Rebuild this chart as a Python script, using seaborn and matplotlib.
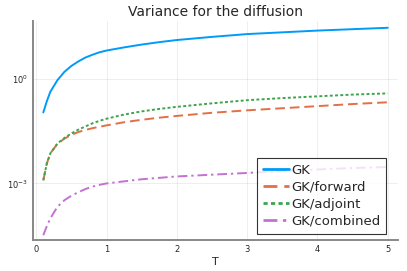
import numpy as np
import pandas as pd
import matplotlib
matplotlib.use('Agg')
import matplotlib.pyplot as plt
import seaborn as sns
from matplotlib.ticker import FixedLocator, NullLocator

# Values (log10 of the variance)
T = [0.1, 0.15, 0.2, 0.3, 0.4, 0.5, 0.6, 0.7, 0.8, 0.9, 1.0, 1.25, 1.5, 1.75,
     2.0, 2.5, 3.0, 3.5, 4.0, 4.5, 5.0]
log_gk = [-0.97, -0.65, -0.38, -0.05, 0.19, 0.36, 0.49, 0.60, 0.68, 0.75, 0.80,
          0.89, 0.97, 1.04, 1.10, 1.19, 1.27, 1.32, 1.37, 1.41, 1.45]
log_forward = [-2.91, -2.43, -2.14, -1.87, -1.72, -1.61, -1.53, -1.47, -1.42, -1.38, -1.34,
               -1.25, -1.18, -1.12, -1.07, -0.98, -0.91, -0.85, -0.79, -0.73, -0.68]
log_adjoint = [-2.91, -2.43, -2.14, -1.86, -1.70, -1.57, -1.46, -1.37, -1.28, -1.21, -1.15,
               -1.03, -0.94, -0.87, -0.81, -0.71, -0.62, -0.56, -0.51, -0.46, -0.425]
log_combined = [-4.48, -4.22, -4.0, -3.67, -3.48, -3.35, -3.25, -3.16, -3.09, -3.04, -3.0,
                -2.94, -2.88, -2.84, -2.80, -2.75, -2.70, -2.65, -2.60, -2.56, -2.53]

labels = ['GK', 'GK/forward', 'GK/adjoint', 'GK/combined']
colors = ['#009AFA', '#E36F47', '#3EA44E', '#C371D2']
dashes = [None, (5, 2.5), (1.5, 1.2), (5, 2, 1.2, 2)]

sns.set_style('white')
plt.rcParams['font.family'] = ['DejaVu Sans']

fig = plt.figure(figsize=(4.07, 2.71), dpi=100)
ax = fig.add_axes([0.081, 0.114, 0.897, 0.808])

for lab, vals, c, d in zip(labels, [log_gk, log_forward, log_adjoint, log_combined], colors, dashes):
    df = pd.DataFrame({'T': T, 'V': 10 ** np.array(vals)})
    sns.lineplot(data=df, x='T', y='V', ax=ax, color=c, lw=1.4, label=lab)
    if d is not None:
        ax.lines[-1].set_dashes(d)

ax.set_yscale('log')
ax.set_xlim(-0.047, 5.147)
ax.set_ylim(10 ** -4.62, 10 ** 1.64)
ax.yaxis.set_major_locator(FixedLocator([1e-3, 1]))
ax.yaxis.set_minor_locator(NullLocator())
ax.set_yticklabels([r'$10^{-3}$', r'$10^{0}$'])
ax.set_xticks([0, 1, 2, 3, 4, 5])
ax.tick_params(labelsize=6, length=2, width=0.6, direction='in', color='black')
ax.grid(True, color='black', alpha=0.08, lw=0.6)
for s in ['top', 'right']:
    ax.spines[s].set_visible(False)
for s in ['left', 'bottom']:
    ax.spines[s].set_color('#888888')
    ax.spines[s].set_linewidth(1.4)

ax.set_title('Variance for the diffusion', fontsize=10, pad=4)
ax.set_xlabel('T', fontsize=8, labelpad=2)
ax.set_ylabel('')

leg = ax.legend(loc='lower right', bbox_to_anchor=(0.968, 0.03), fontsize=9.5, frameon=True,
                fancybox=False, borderpad=0.45, labelspacing=0.3, handlelength=2.0,
                handletextpad=0.15, borderaxespad=0)
leg.get_frame().set_edgecolor('black')
leg.get_frame().set_linewidth(0.8)
for h in leg.get_lines():
    h.set_linewidth(2.0)

fig.savefig('out.png', dpi=100)
